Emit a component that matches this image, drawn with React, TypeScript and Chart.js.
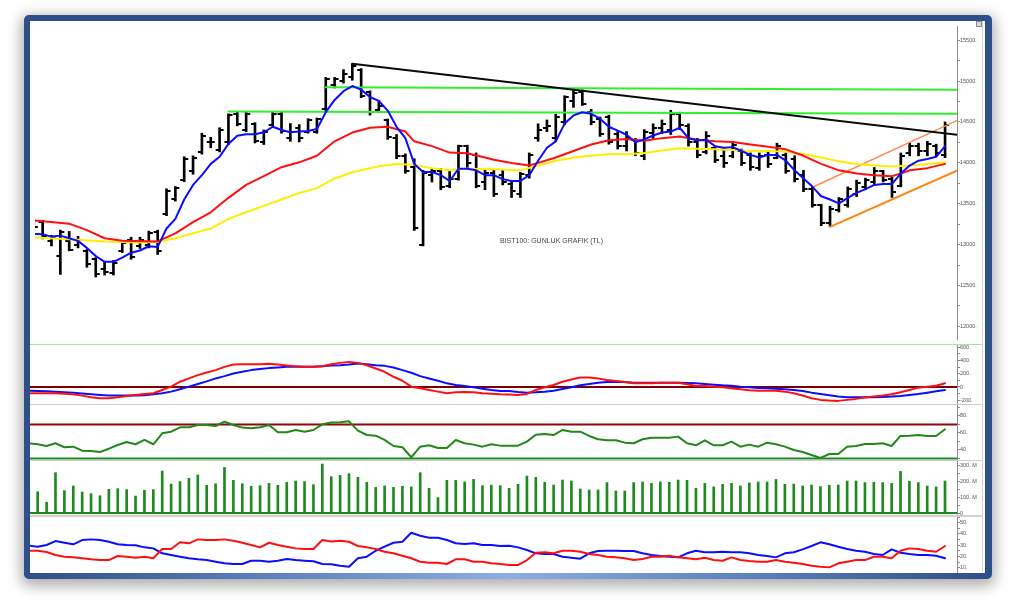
import React, { useEffect, useRef } from 'react';
import { Chart, registerables } from 'chart.js';

Chart.register(...registerables);
Chart.defaults.font.family = 'Liberation Sans';

// ---------- DATA ----------
const OPEN = [13290,13280,13050,12860,13050,12990,12920,12820,12700,12650,
  12920,13060,12980,13000,13150,13380,13560,13790,13900,14130,
  14250,14160,14250,14600,14400,14470,14260,14460,14600,14300,
  14420,14380,14380,14660,14950,15000,15050,15130,14860,14640,
  14520,14300,14080,13950,13000,13850,13900,13720,13800,14200,
  14100,13760,13880,13850,13740,13620,13850,14300,14420,14300,
  14500,14750,14860,14620,14540,14560,14350,14200,14280,14080,
  14360,14420,14400,14600,14450,14250,14130,14180,14080,14080,
  14150,14100,13940,14100,14060,14100,14050,13850,13680,13480,
  13260,13420,13480,13620,13700,13760,13900,13800,13720,14120,
  14200,14150,14200,14100];
const HIGH = [13315,13295,13114,13177,13161,13102,12940,12841,12782,12806,
  13046,13090,13090,13165,13177,13683,13710,14074,14086,14362,
  14311,14429,14599,14619,14627,14492,14402,14619,14619,14480,
  14468,14540,14548,15045,15045,15140,15211,15152,14880,14761,
  14536,14346,14109,14050,13908,13932,13932,13908,14216,14216,
  14121,13908,13908,13908,13766,13884,14121,14477,14524,14595,
  14820,14891,14891,14654,14560,14583,14382,14382,14299,14406,
  14477,14524,14643,14619,14477,14299,14382,14204,14169,14263,
  14169,14121,14121,14145,14240,14121,14086,13908,13706,13493,
  13469,13576,13706,13789,13813,13943,13908,13825,14121,14240,
  14240,14263,14228,14500];
const LOW = [13173,13070,12984,12636,12924,12960,12723,12604,12628,12628,
  12901,12821,12952,12960,12880,13354,13532,13769,13860,14106,
  14184,14133,14224,14453,14382,14243,14224,14453,14362,14263,
  14255,14362,14362,14639,14915,14974,15010,14797,14583,14619,
  14287,14050,13872,13173,12984,13766,13671,13695,13789,13943,
  13695,13671,13588,13730,13576,13576,13813,14263,14382,14263,
  14465,14678,14702,14465,14323,14228,14169,14145,14086,14038,
  14299,14358,14346,14406,14204,14062,14109,14003,13943,14062,
  13967,13908,13908,13943,14050,13872,13766,13647,13458,13232,
  13221,13398,13458,13588,13671,13730,13766,13576,13706,14086,
  14086,14086,14086,14062];
const CLOSE = [13220,13100,13090,13150,12930,13060,12760,12640,12660,12780,
  13020,12850,13060,13140,12920,13650,13690,14050,14060,14330,
  14260,14400,14580,14480,14600,14270,14380,14600,14390,14380,
  14300,14520,14530,15020,15020,15080,15180,14820,14620,14700,
  14320,14080,13900,13200,13880,13900,13700,13800,14200,14000,
  13720,13880,13620,13760,13650,13860,14100,14400,14450,14560,
  14800,14850,14720,14500,14350,14260,14200,14300,14120,14380,
  14420,14480,14600,14460,14250,14100,14330,14040,14000,14220,
  14000,13950,14080,13980,14200,13900,13800,13680,13480,13260,
  13440,13560,13680,13750,13790,13900,13790,13640,14080,14200,
  14150,14230,14120,14460];

// fast moving average (blue), one value per bar
const MA_FAST = [13129,13126,13098,13110,13078,13046,12960,12861,12790,12790,
  12841,12901,12928,12980,12972,13197,13315,13552,13730,13849,
  13987,14074,14231,14331,14350,14350,14374,14441,14402,14374,
  14382,14390,14414,14619,14769,14876,14939,14895,14805,14757,
  14639,14441,14302,13987,13888,13888,13849,13778,13928,13928,
  13908,13849,13849,13801,13778,13778,13849,14026,14184,14263,
  14480,14580,14619,14599,14540,14441,14394,14343,14252,14287,
  14334,14370,14382,14429,14302,14272,14283,14204,14184,14192,
  14145,14097,14065,14097,14097,14026,13908,13809,13710,13591,
  13552,13505,13572,13632,13679,13730,13742,13742,13869,13967,
  14026,14046,14074,14204];
// medium moving average (red), [bar, value]
const MA_MID = [[0,13295],[4,13256],[6,13177],[8,13078],[10,13046],[14,13039],[16,13138],[18,13276],
  [20,13395],[22,13572],[24,13730],[26,13837],[28,13947],[30,14006],[32,14086],[34,14263],[36,14370],
  [38,14429],[40,14441],[42,14382],[43,14263],[45,14204],[47,14125],[49,14118],[51,14065],[52,14038],
  [54,13999],[56,13967],[57,13999],[59,14065],[61,14145],[63,14224],[65,14275],[67,14291],[69,14269],
  [71,14302],[73,14323],[75,14283],[77,14263],[79,14255],[81,14224],[83,14196],[85,14165],[87,14086],
  [89,13987],[91,13908],[93,13869],[95,13849],[97,13837],[98,13869],[99,13908],[101,13935],[103,13987]];
// slow moving average (yellow), [bar, value]
const MA_SLOW = [[0,13087],[4,13067],[8,13039],[12,13027],[14,13031],[16,13078],[18,13138],[20,13197],
  [22,13315],[24,13395],[26,13473],[28,13552],[30,13632],[32,13691],[34,13809],[36,13884],[39,13959],
  [41,13987],[43,13975],[45,13935],[47,13908],[49,13928],[52,13920],[55,13908],[57,13967],[59,14026],
  [61,14065],[63,14086],[65,14106],[67,14106],[69,14121],[71,14151],[73,14177],[75,14172],[77,14165],
  [79,14157],[81,14145],[83,14145],[85,14137],[87,14106],[89,14065],[91,14018],[93,13987],[95,13967],
  [97,13955],[99,13967],[101,13987],[103,14006]];

// drawn lines [bar, price]
const TREND_DOWN = [[36,15211],[104.4,14343]];
const RESIST_UPPER = [[33,14923],[104.4,14895]];
const RESIST_LOWER = [[22,14627],[104.4,14599]];
const CHANNEL_UPPER = [[88.2,13710],[104.4,14520]];
const CHANNEL_LOWER = [[90,13217],[104.4,13908]];

const MACD = [-95,-95,-95,-95,-100,-109,-130,-154,-169,-169,
  -154,-135,-119,-104,-95,-45,5,79,129,179,
  219,254,303,338,343,343,343,348,338,324,
  313,303,303,313,343,363,378,363,328,279,
  229,154,94,5,-20,-45,-70,-95,-80,-75,
  -80,-95,-100,-109,-114,-119,-104,-45,-5,30,
  79,114,144,144,129,104,90,75,55,55,
  55,65,65,65,40,15,15,5,-5,-20,
  -35,-50,-55,-55,-55,-70,-95,-129,-169,-194,
  -204,-209,-194,-179,-159,-144,-129,-109,-80,-45,
  -10,5,20,55];
const SIGNAL = [-55,-60,-65,-70,-78,-85,-97,-109,-120,-129,
  -129,-129,-127,-124,-109,-95,-70,-35,5,45,
  85,129,164,204,229,254,269,284,294,303,
  303,303,303,313,324,328,338,353,343,328,
  318,294,254,214,164,129,94,55,30,15,
  -5,-25,-45,-60,-60,-75,-85,-80,-70,-55,
  -30,-5,25,45,65,75,79,75,65,65,
  65,65,65,65,60,55,45,35,25,20,
  5,-5,-15,-20,-25,-35,-45,-60,-85,-104,
  -124,-144,-154,-154,-154,-154,-149,-144,-134,-119,
  -104,-85,-65,-45];
const MACD_LEVELS = [0];

const RSI = [47.9,46.7,44.7,47.9,43.2,43.9,39.2,38.8,37.6,41.5,
  45.9,49.4,46.7,51.8,46.7,59.6,61.5,66.7,66.7,69.4,
  69.4,68.2,73.3,69.4,66.3,65.5,66.7,69.4,60.8,60.8,
  63.5,61.5,63.5,70.2,72.2,72.5,73.7,62.7,57.6,56.8,
  51.8,44.7,43.2,31.4,43.9,45.5,42.4,42.4,51.8,47.9,
  46.3,43.9,46.7,45.1,45.1,45.1,49.8,58,58.8,57.6,
  63.5,61.5,61.5,56.5,52.6,51.4,51.4,48.6,47.9,52.6,
  54.5,54.5,54.5,55.7,47.9,45.5,51.4,45.5,45.5,49.8,
  43.9,46.3,43.9,48.6,46.7,43.9,40,37.6,34.1,30.6,
  35.3,35.3,43.9,44.7,47.1,47.1,47.9,44.7,56.5,56.8,
  57.6,56.5,56.5,64.3];
const RSI_LEVELS = [70, 30];

// volume, millions
const VOLUME = [150,133,67,252,140,169,131,121,108,148,
  152,146,106,142,146,262,181,196,217,238,
  173,183,285,204,183,167,171,185,173,192,
  200,196,177,306,227,235,246,223,192,160,
  169,160,167,163,252,154,96,204,204,194,
  210,171,174,171,154,179,231,223,192,175,
  206,200,150,144,144,190,138,138,190,194,
  185,194,192,206,204,154,185,163,179,185,
  169,188,194,194,210,179,181,169,175,165,
  173,175,200,200,190,192,190,185,260,198,
  190,169,163,200];

const PLUS_DI = [25.1,25,24,21.3,19.8,19.2,18.4,17.5,16.8,16.8,
  20.4,19.8,18.9,19.8,18.4,26.6,26.6,32.6,31.7,35.2,
  34.6,34.6,35.2,34,32.2,30.2,28.1,32.2,30.2,28.7,
  27.2,26.6,26.6,34.6,33.4,34,33.1,29.3,28.1,26.6,
  24.2,22.8,20.7,18.4,15.3,14.4,14.4,13.3,17.5,17.5,
  15.3,15.3,13.9,13.3,12.4,12.4,16.8,23.3,23.7,22.8,
  25.1,25.1,24.2,22.2,21.3,19.8,19.2,18.4,16.8,17.7,
  19.8,19.8,20.7,19.2,18.4,17.5,18.9,16.8,16.2,19.2,
  16.8,15.9,15.3,15.3,16.8,15.3,14.4,13.3,11.8,10.9,
  10.3,13.9,15.3,16.8,16.8,19.8,19.8,18.4,25.1,27.2,
  26.6,25.1,24.2,29.3];
const MINUS_DI = [29.6,28.7,30.2,33.7,32.2,30.8,34.6,35.2,34.6,33.1,
  30.8,30.2,30,28.1,27.2,22.8,21.3,19.8,18.4,17.5,
  16.8,15.3,13.9,13.3,13.3,16.2,16.2,15.3,16.2,17.7,
  16.8,16.2,15.7,13.3,13,11.8,10.9,18.4,19.8,25.1,
  28.7,32.2,33.1,41.1,38.4,36.7,36.7,34.6,31.7,31.1,
  31.7,30.2,30.2,29.3,29.6,28.1,25.7,22.8,22.2,22.2,
  19.8,18.9,18,22.8,24.8,25.1,25.1,24.8,24.8,22.8,
  21.3,20.4,19.8,19.2,22.8,25.1,23.7,23.7,24.2,23.7,
  23.7,22.8,21.3,20.4,19.2,22.8,23.7,26.3,29.3,32.6,
  30.8,28.7,26.6,25.1,24.2,22.2,21.3,26.3,23.3,22.2,
  21.3,21.3,20.7,18.4];

const CAPTION = 'BIST100: GUNLUK GRAFIK (TL)';

// ---------- helpers ----------
const X_MIN = 0.135;
const X_MAX = 104.35;
const AXIS_W = 28;
const W = 955;

const byIndex = (arr: number[]) => arr.map((y, i) => ({ x: i, y }));
const byPair = (arr: number[][]) => arr.map(([x, y]) => ({ x, y }));

const xAxis: any = { type: 'linear', min: X_MIN, max: X_MAX, display: false, offset: false };

function yAxis(min: number, max: number, step: number, labelStep: number, fmt: (v: number) => string): any {
  return {
    type: 'linear',
    position: 'right',
    min,
    max,
    ticks: {
      stepSize: step,
      autoSkip: false,
      maxTicksLimit: 1000,
      includeBounds: false,
      padding: 0,
      color: '#555',
      font: { size: 5.5, family: 'Liberation Sans' },
      callback: (v: any) => (Math.abs(Number(v) % labelStep) < 1e-6 ? fmt(Number(v)) : ''),
    },
    grid: { drawOnChartArea: false, drawTicks: true, tickLength: 3, color: '#8c8c8c', lineWidth: 1 },
    border: { display: true, color: '#8c8c8c', width: 1 },
    afterFit: (s: any) => {
      s.width = AXIS_W;
      s.paddingTop = 0;
      s.paddingBottom = 0;
    },
  };
}

const levelPlugin: any = {
  id: 'levels',
  beforeDatasetsDraw(chart: any, _a: any, opts: any) {
    const lines = (opts && opts.lines) || [];
    const { ctx, chartArea } = chart;
    const ys = chart.scales.y;
    ctx.save();
    for (const l of lines) {
      const py = ys.getPixelForValue(l.value);
      ctx.strokeStyle = l.color;
      ctx.lineWidth = l.width;
      ctx.beginPath();
      ctx.moveTo(chartArea.left, py);
      ctx.lineTo(chartArea.right, py);
      ctx.stroke();
    }
    ctx.restore();
  },
};

const captionPlugin: any = {
  id: 'caption',
  afterDatasetsDraw(chart: any, _a: any, opts: any) {
    if (!opts || !opts.text) return;
    const { ctx } = chart;
    ctx.save();
    ctx.font = '7px "Liberation Sans"';
    ctx.fillStyle = '#444';
    ctx.textAlign = 'left';
    ctx.textBaseline = 'middle';
    ctx.fillText(opts.text, opts.x, opts.y);
    ctx.restore();
  },
};

function tickImage(left: boolean) {
  const c = document.createElement('canvas');
  c.width = 10;
  c.height = 2;
  const g = c.getContext('2d')!;
  g.fillStyle = '#000';
  if (left) g.fillRect(1, 0, 4, 2);
  else g.fillRect(5, 0, 4, 2);
  return c;
}

function baseOptions(y: any, plugins: any): any {
  return {
    animation: false,
    responsive: false,
    maintainAspectRatio: false,
    events: [],
    layout: { padding: 0 },
    plugins: { legend: { display: false }, tooltip: { enabled: false }, title: { display: false }, ...plugins },
    scales: { x: xAxis, y },
  };
}

const line = (data: any, color: string, width: number, order: number): any => ({
  type: 'line',
  data,
  borderColor: color,
  backgroundColor: color,
  borderWidth: width,
  pointRadius: 0,
  tension: 0,
  fill: false,
  order,
  borderJoinStyle: 'round',
  borderCapStyle: 'round',
});

function mainConfig(): any {
  const openImg = tickImage(true);
  const closeImg = tickImage(false);
  return {
    type: 'bar',
    data: {
      datasets: [
        line(byIndex(MA_FAST), '#0c0cff', 2, 1),
        line(byPair(MA_MID), '#ff1010', 2, 2),
        line(byPair(MA_SLOW), '#ffee00', 2, 3),
        line(byPair(TREND_DOWN), '#0a0a0a', 2, 4),
        line(byPair(CHANNEL_UPPER), '#ff8c4a', 1.5, 4),
        line(byPair(CHANNEL_LOWER), '#ff8410', 2, 4),
        line(byPair(RESIST_UPPER), '#2ef02e', 2, 5),
        line(byPair(RESIST_LOWER), '#2ef02e', 2, 5),
        { type: 'scatter', data: byIndex(OPEN), pointStyle: openImg, pointRadius: 3, order: 8 },
        { type: 'scatter', data: byIndex(CLOSE), pointStyle: closeImg, pointRadius: 3, order: 8 },
        {
          type: 'bar',
          data: HIGH.map((h, i) => ({ x: i, y: [LOW[i], h] })),
          backgroundColor: '#000',
          borderWidth: 0,
          barThickness: 2,
          grouped: false,
          order: 9,
        },
      ],
    },
    options: baseOptions(yAxis(11846, 15673, 250, 500, (v) => `${v}.`), {
      caption: { text: CAPTION, x: 470, y: 220.5 },
    }),
    plugins: [captionPlugin],
  };
}

function macdConfig(): any {
  return {
    type: 'line',
    data: {
      datasets: [line(byIndex(MACD), '#ff1010', 2, 1), line(byIndex(SIGNAL), '#0c0cff', 2, 2)],
    },
    options: baseOptions(yAxis(-256, 632, 100, 200, (v) => (v === 0 ? '0' : `${v}.`)), {
      levels: { lines: MACD_LEVELS.map((v) => ({ value: v, color: '#7d0000', width: 2 })) },
    }),
    plugins: [levelPlugin],
  };
}

function rsiConfig(): any {
  return {
    type: 'line',
    data: { datasets: [line(byIndex(RSI), '#22881a', 2, 1)] },
    options: baseOptions(yAxis(28.2, 92.9, 10, 20, (v) => `${v}.`), {
      levels: {
        lines: [
          { value: RSI_LEVELS[0], color: '#8b0a0a', width: 2 },
          { value: RSI_LEVELS[1], color: '#1f8a1f', width: 2 },
        ],
      },
    }),
    plugins: [levelPlugin],
  };
}

function volConfig(): any {
  return {
    type: 'bar',
    data: {
      datasets: [
        {
          type: 'bar',
          data: byIndex(VOLUME),
          backgroundColor: '#1f8a1f',
          borderWidth: 0,
          barThickness: 2,
          grouped: false,
        },
      ],
    },
    options: baseOptions(yAxis(-12.5, 325, 50, 100, (v) => (v === 0 ? '0' : `${v}. M`)), {
      levels: { lines: [{ value: 0, color: '#1f8a1f', width: 2 }] },
    }),
    plugins: [levelPlugin],
  };
}

function dmiConfig(): any {
  return {
    type: 'line',
    data: {
      datasets: [line(byIndex(PLUS_DI), '#ff1010', 2, 1), line(byIndex(MINUS_DI), '#0c0cff', 2, 2)],
    },
    options: baseOptions(yAxis(5.3, 55.1, 5, 10, (v) => `${v}.`), {}),
  };
}

export default function App() {
  const mainRef = useRef<HTMLCanvasElement>(null);
  const macdRef = useRef<HTMLCanvasElement>(null);
  const rsiRef = useRef<HTMLCanvasElement>(null);
  const volRef = useRef<HTMLCanvasElement>(null);
  const dmiRef = useRef<HTMLCanvasElement>(null);

  useEffect(() => {
    const charts: Chart[] = [];
    charts.push(new Chart(mainRef.current!, mainConfig()));
    charts.push(new Chart(macdRef.current!, macdConfig()));
    charts.push(new Chart(rsiRef.current!, rsiConfig()));
    charts.push(new Chart(volRef.current!, volConfig()));
    charts.push(new Chart(dmiRef.current!, dmiConfig()));
    return () => charts.forEach((c) => c.destroy());
  }, []);

  const cv = (top: number, h: number, ref: any) => (
    <canvas
      ref={ref}
      width={W}
      height={h}
      style={{ position: 'absolute', left: 30, top, width: W, height: h, display: 'block' }}
    />
  );

  return (
    <div style={{ position: 'absolute', left: 0, top: 0, width: 1016, height: 611, background: '#fff', overflow: 'hidden' }}>
      <div
        style={{
          position: 'absolute',
          left: 24,
          top: 15,
          width: 968,
          height: 564,
          borderRadius: 5,
          background: '#2e4f88',
          boxShadow: '0 4px 14px 3px rgba(0,0,0,0.32)',
        }}
      />
      <div
        style={{
          position: 'absolute',
          left: 28,
          top: 573,
          width: 960,
          height: 6,
          background: 'linear-gradient(to right, #2e4f88 0%, #5d80bf 25%, #8caee2 50%, #5d80bf 75%, #2e4f88 100%)',
        }}
      />
      <div style={{ position: 'absolute', left: 30, top: 21, width: 955, height: 552, background: '#fff' }} />
      {cv(21, 323, mainRef)}
      {cv(345, 59, macdRef)}
      {cv(405, 55, rsiRef)}
      {cv(461, 54, volRef)}
      {cv(517, 56, dmiRef)}
      <div style={{ position: 'absolute', left: 30, top: 344, width: 952, height: 1, background: '#a9dfa9' }} />
      <div style={{ position: 'absolute', left: 30, top: 404, width: 952, height: 1, background: '#cfcfcf' }} />
      <div style={{ position: 'absolute', left: 30, top: 460, width: 952, height: 1, background: '#cfcfcf' }} />
      <div style={{ position: 'absolute', left: 30, top: 515, width: 952, height: 2, background: '#d2d2d2' }} />
      <div style={{ position: 'absolute', left: 982, top: 21, width: 1, height: 552, background: '#d6d6d6' }} />
      <div
        style={{
          position: 'absolute',
          left: 976,
          top: 21,
          width: 4,
          height: 4,
          border: '1px solid #8a8a8a',
          background: '#d8d8d8',
        }}
      />
    </div>
  );
}
